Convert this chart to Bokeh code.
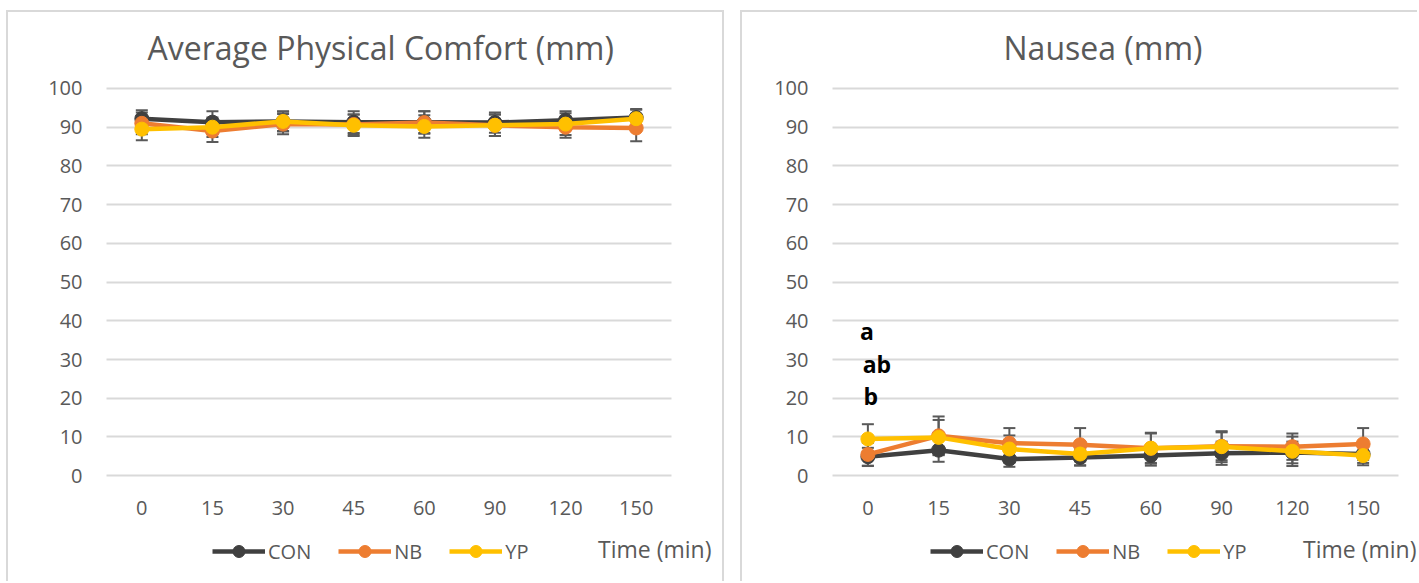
from bokeh.plotting import figure
from bokeh.models import ColumnDataSource, Legend, LegendItem, Label, FixedTicker, Range1d
from bokeh.layouts import row
from bokeh.core.properties import value
from bokeh.embed import file_html
from bokeh.resources import INLINE

# ---------------- data ----------------
times = ["0", "15", "30", "45", "60", "90", "120", "150"]
series_names = ["CON", "NB", "YP"]
series_colors = ["#404040", "#ED7D31", "#FFC000"]
y_ticks = [0, 10, 20, 30, 40, 50, 60, 70, 80, 90, 100]

comfort_con = [92.2, 91.3, 91.5, 91.3, 91.3, 91.2, 91.8, 92.5]
comfort_nb = [91.0, 89.0, 90.8, 90.7, 91.2, 90.5, 90.0, 89.8]
comfort_yp = [89.5, 90.0, 91.5, 90.5, 90.2, 90.5, 90.8, 92.2]
comfort_con_err = [2.2, 2.8, 2.5, 2.8, 2.8, 2.6, 2.3, 2.2]
comfort_nb_err = [2.8, 2.8, 2.6, 2.6, 2.9, 2.8, 2.7, 3.4]
comfort_yp_err = [2.9, 2.5, 2.6, 2.8, 2.9, 2.8, 2.8, 2.3]

nausea_con = [4.9, 6.6, 4.3, 4.7, 5.2, 5.8, 6.0, 5.6]
nausea_nb = [5.5, 10.3, 8.4, 8.0, 7.1, 7.6, 7.5, 8.2]
nausea_yp = [9.5, 9.9, 6.9, 5.6, 7.1, 7.5, 6.3, 5.2]
nausea_con_err = [2.3, 3.0, 2.0, 2.0, 2.6, 3.0, 2.8, 2.3]
nausea_nb_err = [3.0, 5.0, 3.9, 4.3, 3.8, 3.6, 3.4, 4.1]
nausea_yp_err = [3.8, 4.5, 3.5, 3.0, 4.0, 4.0, 3.8, 2.5]

sig_text = ["a", "ab", "b"]
sig_y = [37.4, 28.9, 20.6]

x_title = "Time (min)"

FONT = "Open Sans"
GREY = "#595959"
GRID = "#d9d9d9"

n_cat = len(times)
x_pos = [i + 0.5 for i in range(n_cat)]


def make_chart(title, means, errs, width, height, margin, shadow,
               plot_left_px, plot_right_px, title_x, legend_x, time_dx, sig=False):
    # layout geometry (pixels inside the figure)
    frame_top_px = 66      # top of drawing frame from figure top (title panel height)
    top_px = 75            # y=100 gridline from figure top
    zero_px = 463          # y=0 gridline from figure top
    px_per_unit = (zero_px - top_px) / 100.0
    y_start = -(height - zero_px) / px_per_unit
    y_end = 100 + (top_px - frame_top_px) / px_per_unit
    px_per_cat = (plot_right_px - plot_left_px) / n_cat
    x_start = -plot_left_px / px_per_cat
    x_end = n_cat + (width - plot_right_px) / px_per_cat

    p = figure(width=width, height=height, x_range=Range1d(x_start, x_end),
               y_range=Range1d(y_start, y_end),
               output_backend="svg", toolbar_location=None,
               min_border_left=0, min_border_right=0, min_border_top=frame_top_px,
               min_border_bottom=0,
               background_fill_color="white", border_fill_color="white", outline_line_color=None,
               margin=margin, styles={"box-shadow": shadow})
    p.title.text = title
    p.title.text_font = FONT
    p.title.text_font_size = "32px"
    p.title.text_font_style = "normal"
    p.title.text_color = GREY
    p.title.align = "left"
    p.title.offset = title_x
    p.title.standoff = 22

    p.yaxis.ticker = FixedTicker(ticks=y_ticks)
    p.xaxis.ticker = FixedTicker(ticks=x_pos)
    p.xaxis.major_label_overrides = {x: t for x, t in zip(x_pos, times)}
    p.xaxis.fixed_location = 0
    p.yaxis.fixed_location = 0
    for ax in (p.xaxis, p.yaxis):
        ax.axis_line_color = None
        ax.major_tick_line_color = None
        ax.minor_tick_line_color = None
        ax.major_tick_out = 0
        ax.major_tick_in = 0
        ax.minor_tick_out = 0
        ax.major_label_text_font = FONT
        ax.major_label_text_font_size = "20px"
        ax.major_label_text_color = GREY
    p.yaxis.major_label_standoff = 24
    p.xaxis.major_label_standoff = 25

    p.xgrid.grid_line_color = None
    p.ygrid.grid_line_color = GRID
    p.ygrid.grid_line_width = 2
    p.ygrid.cross_bounds = (0, n_cat)

    items = []
    srcs = []
    for m, e in zip(means, errs):
        src = ColumnDataSource(dict(x=x_pos, y=m, lo=[a - b for a, b in zip(m, e)],
                                    hi=[a + b for a, b in zip(m, e)]))
        srcs.append(src)
        p.segment(x0="x", y0="lo", x1="x", y1="hi", source=src, line_color=GREY, line_width=2)
        p.scatter(x="x", y="lo", source=src, marker="dash", size=12, line_color=GREY, line_width=2)
        p.scatter(x="x", y="hi", source=src, marker="dash", size=12, line_color=GREY, line_width=2)
    for name, color, src in zip(series_names, series_colors, srcs):
        ln = p.line(x="x", y="y", source=src, line_color=color, line_width=4.5)
        sc = p.scatter(x="x", y="y", source=src, marker="circle", size=14,
                       fill_color=color, line_color=color)
        items.append(LegendItem(label=name, renderers=[ln, sc]))

    leg = Legend(items=items, orientation="horizontal", location=(legend_x, 17),
                 glyph_width=53, glyph_height=30, label_standoff=3, spacing=27,
                 padding=0, margin=0, border_line_color=None, background_fill_alpha=0,
                 label_text_font=FONT, label_text_font_size="20px", label_text_color=GREY)
    p.add_layout(leg, "center")

    p.add_layout(Label(x=n_cat, y=-18.8, text=x_title, text_align="right", text_baseline="middle",
                       x_offset=time_dx, text_font=FONT, text_font_size="23px",
                       text_color=GREY))

    if sig:
        ssrc = ColumnDataSource(dict(x=[x_pos[0]] * len(sig_text), y=sig_y, t=sig_text,
                                     dx=[-1, 9, 3]))
        p.text(x="x", y="y", text="t", x_offset="dx", source=ssrc, text_align="center",
               text_baseline="middle", text_font=value(FONT), text_font_size="23px",
               text_font_style="bold", text_color="black")
    return p


p1 = make_chart("Average Physical Comfort (mm)",
                [comfort_con, comfort_nb, comfort_yp],
                [comfort_con_err, comfort_nb_err, comfort_yp_err],
                714, 571, (12, 0, 0, 8),
                "-2px -2px 0 0 #d9d9d9, 2px -2px 0 0 #d9d9d9",
                98, 663, 139, 204, 40)
p2 = make_chart("Nausea (mm)",
                [nausea_con, nausea_nb, nausea_yp],
                [nausea_con_err, nausea_nb_err, nausea_yp_err],
                677, 571, (12, 0, 0, 0),
                "-2px -2px 0 0 #d9d9d9",
                90, 656, 261, 188, 18, sig=True)

layout = row(p1, p2, spacing=20)
open("out.html", "w").write(file_html(layout, INLINE))
